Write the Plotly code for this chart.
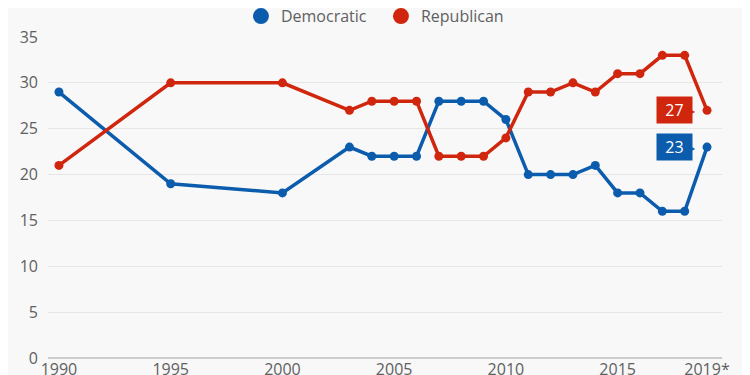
import plotly.graph_objects as go

years = [1990, 1995, 2000, 2003, 2004, 2005, 2006, 2007, 2008, 2009, 2010,
         2011, 2012, 2013, 2014, 2015, 2016, 2017, 2018, 2019]
democratic = [29, 19, 18, 23, 22, 22, 22, 28, 28, 28, 26,
              20, 20, 20, 21, 18, 18, 16, 16, 23]
republican = [21, 30, 30, 27, 28, 28, 28, 22, 22, 22, 24,
              29, 29, 30, 29, 31, 31, 33, 33, 27]
tick_vals = [1990, 1995, 2000, 2005, 2010, 2015, 2019]
tick_text = ["1990", "1995", "2000", "2005", "2010", "2015", "2019*"]

BLUE = "#0b5cad"
RED = "#d0260e"
BG = "#f8f8f8"
TXT = "#606060"

fig = go.Figure()
for name, series, color in (("Democratic", democratic, BLUE), ("Republican", republican, RED)):
    fig.add_trace(go.Scatter(x=years, y=series, name=name, mode="lines+markers", showlegend=False,
                             line=dict(color=color, width=3.5), marker=dict(size=9, color=color)))
    fig.add_trace(go.Scatter(x=[None], y=[None], name=name, mode="markers",
                             marker=dict(size=18, color=color)))

for series, color in ((republican, RED), (democratic, BLUE)):
    fig.add_annotation(x=years[-1], y=series[-1], text=str(series[-1]),
                       xanchor="right", yanchor="middle", xshift=-14, showarrow=False,
                       bgcolor=color, font=dict(color="white", size=16, family="Open Sans"),
                       borderpad=2, width=31)
    fig.add_annotation(x=years[-1], y=series[-1], text="▶",
                       xanchor="right", yanchor="middle", xshift=-9, showarrow=False,
                       font=dict(color=color, size=8))

fig.update_layout(
    width=742, height=367,
    margin=dict(l=40, r=28, t=29, b=17, autoexpand=False),
    paper_bgcolor=BG, plot_bgcolor=BG,
    font=dict(family="Open Sans", color=TXT, size=16),
    showlegend=True,
    legend=dict(orientation="h", x=0.2863, xanchor="left", y=1.065, yanchor="middle",
                font=dict(size=16, color=TXT), itemwidth=30, entrywidth=95,
                bgcolor="rgba(0,0,0,0)"),
    xaxis=dict(range=[1989.51, 2019.67], tickvals=tick_vals, ticktext=tick_text,
               showgrid=False, zeroline=False, showline=False, ticks="",
               tickfont=dict(size=16, color=TXT)),
    yaxis=dict(range=[0, 35], dtick=5, showgrid=True, gridcolor="#e6e6e6", gridwidth=1,
               zeroline=True, zerolinecolor="#cccccc", zerolinewidth=2,
               ticks="", ticklabelstandoff=9, tickfont=dict(size=16, color=TXT)),
)

fig.write_html("out.html")
